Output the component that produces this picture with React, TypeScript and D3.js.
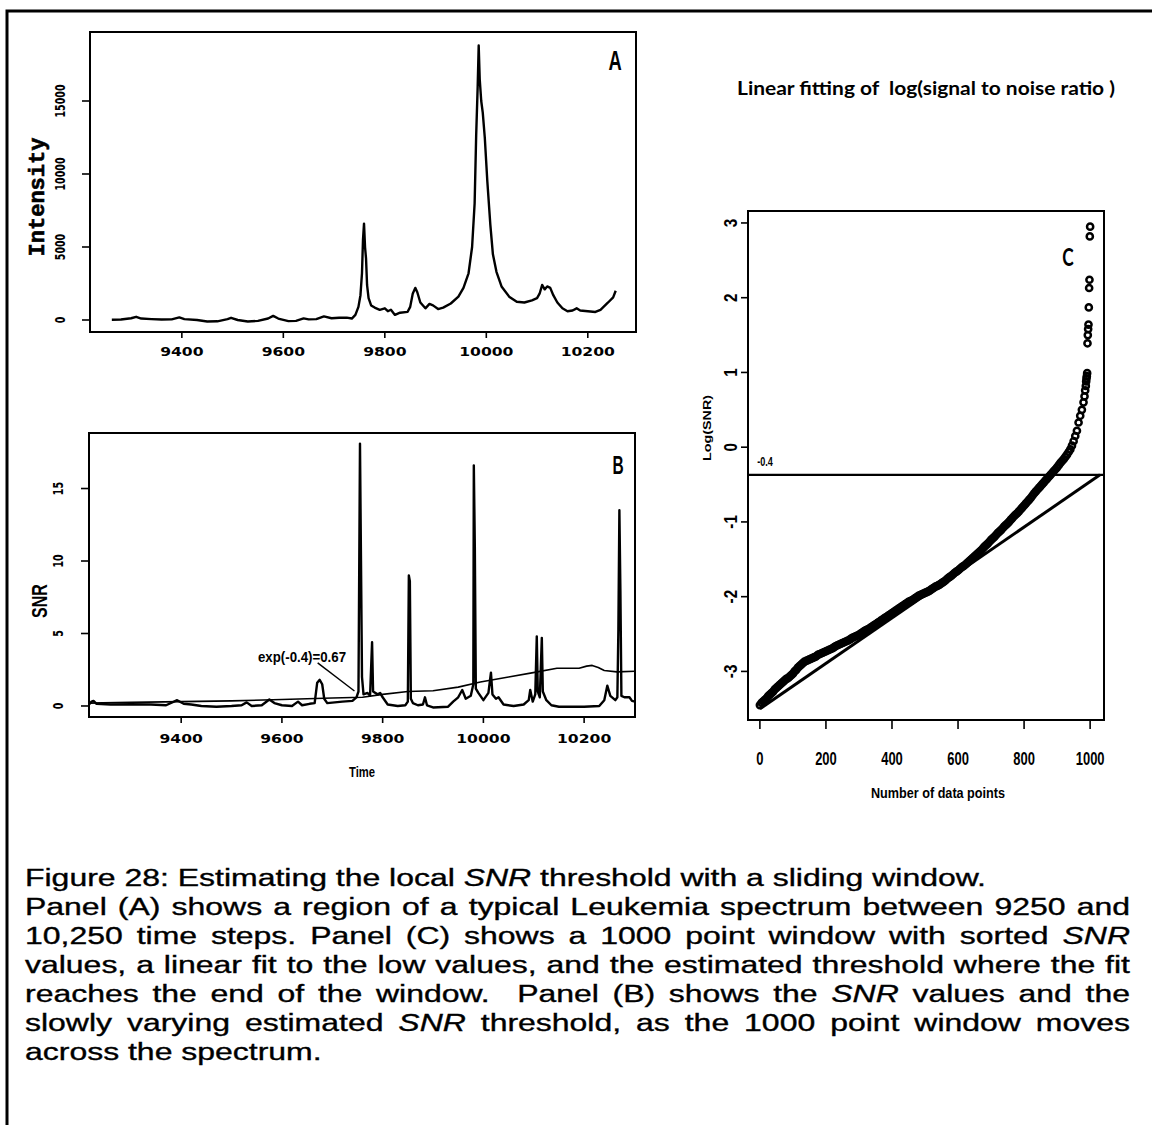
import React, { useEffect, useRef } from "react";
import * as d3 from "d3";

// ---------- Panel A: intensity spectrum ----------
const aTime = [9262, 9280, 9300, 9310, 9320, 9340, 9360, 9380, 9395, 9405, 9430, 9450, 9470, 9490, 9497, 9510, 9530, 9550, 9570, 9580, 9590, 9610, 9625, 9640, 9650, 9665, 9680, 9695, 9710, 9725, 9735, 9742, 9748, 9752, 9755, 9757, 9759, 9761, 9763, 9765, 9768, 9773, 9780, 9790, 9800, 9806, 9812, 9820, 9830, 9845, 9850, 9855, 9860, 9864, 9870, 9880, 9888, 9895, 9905, 9915, 9930, 9945, 9955, 9965, 9972, 9977, 9980, 9983, 9985, 9987, 9990, 9993, 9997, 10002, 10008, 10013, 10020, 10030, 10045, 10060, 10075, 10090, 10100, 10105, 10110, 10115, 10120, 10126, 10132, 10140, 10150, 10160, 10170, 10178, 10185, 10200, 10215, 10225, 10240, 10250, 10255];
const aIntensity = [20, 30, 120, 220, 100, 60, 30, 40, 180, 60, 0, -100, -90, 60, 150, 0, -100, -60, 100, 280, 100, -80, -60, 110, 40, 60, 250, 120, 150, 160, 100, 350, 900, 1700, 3200, 5500, 6600, 5000, 4200, 2400, 1500, 1000, 850, 700, 800, 600, 700, 350, 500, 560, 900, 1800, 2200, 1900, 1200, 800, 1100, 1000, 750, 850, 1130, 1600, 2200, 3200, 5000, 8000, 12600, 16000, 18800, 16500, 15000, 14200, 12500, 9500, 6500, 4500, 3300, 2300, 1600, 1250, 1200, 1350, 1500, 1800, 2400, 2100, 2300, 2200, 1700, 1200, 800, 600, 650, 800, 650, 600, 550, 700, 1200, 1550, 2000];
const aXTicks = [9400, 9600, 9800, 10000, 10200];
const aYTicks = [0, 5000, 10000, 15000];

// ---------- Panel B: SNR and sliding threshold ----------
const bTime = [9217, 9222, 9226, 9232, 9260, 9300, 9340, 9370, 9392, 9405, 9420, 9440, 9470, 9500, 9520, 9530, 9540, 9560, 9575, 9585, 9600, 9620, 9632, 9640, 9655, 9665, 9670, 9675, 9680, 9684, 9690, 9720, 9740, 9748, 9752, 9755, 9757, 9759, 9762, 9770, 9775, 9779, 9781, 9790, 9795, 9800, 9810, 9830, 9845, 9850, 9852, 9854, 9856, 9860, 9870, 9880, 9884, 9888, 9900, 9930, 9940, 9950, 9958, 9965, 9975, 9980, 9981, 9983, 9985, 9990, 10000, 10010, 10015, 10018, 10025, 10030, 10040, 10060, 10080, 10090, 10093, 10098, 10103, 10106, 10108, 10112, 10116, 10118, 10125, 10135, 10150, 10200, 10230, 10240, 10246, 10252, 10262, 10266, 10268, 10270, 10272, 10274, 10280, 10290, 10295, 10301];
const bSnr = [0.1, 0.3, 0.35, 0.15, 0.1, 0.12, 0.1, 0.05, 0.4, 0.15, 0.1, 0.0, -0.05, 0.0, 0.05, 0.25, 0.0, 0.05, 0.45, 0.2, 0.05, 0.0, 0.3, 0.05, 0.15, 0.2, 1.6, 1.8, 1.5, 0.5, 0.2, 0.3, 0.35, 0.6, 1.0, 18.1, 10, 2, 0.8, 0.9, 0.7, 4.4, 1.0, 0.8, 0.9, 0.6, 0.1, 0.0, 0.05, 0.3, 9.0, 8.6, 0.5, 0.2, 0.05, 0.1, 0.6, 0.05, -0.1, -0.05, 0.3, 0.6, 1.1, 0.5, 0.7, 1.5, 16.6, 11, 1.2, 0.9, 0.4, 0.9, 2.3, 0.8, 0.5, 0.6, 0.1, 0.0, 0.1, 0.4, 1.1, 0.3, 0.8, 4.8, 1.0, 0.6, 4.7, 1.0, 0.4, 0.05, -0.05, -0.05, 0.0, 0.4, 1.4, 0.7, 0.4, 0.6, 5.3, 13.5, 8, 0.7, 0.6, 0.6, 0.35, 0.3];
const thrTime = [9217, 9300, 9400, 9500, 9600, 9700, 9760, 9800, 9850, 9900, 9950, 9994, 10050, 10099, 10146, 10190, 10205, 10216, 10228, 10240, 10265, 10301];
const thrSnr = [0.2, 0.25, 0.3, 0.35, 0.45, 0.55, 0.6, 0.8, 1.0, 1.05, 1.3, 1.65, 2.0, 2.3, 2.6, 2.6, 2.75, 2.8, 2.65, 2.45, 2.35, 2.4];
const bXTicks = [9400, 9600, 9800, 10000, 10200];
const bYTicks = [0, 5, 10, 15];
const bNoteText = "exp(-0.4)=0.67";
const bNoteFrom = [9671, 2.97];
const bNoteTo = [9744, 1.03];

// ---------- Panel C: sorted log(SNR) in a 1000 point window ----------
const cIndex = [
  0, 5, 10, 15, 20, 25, 30, 35, 40, 45, 50, 55, 60, 65, 70, 75, 80, 85, 90, 95,
  100, 105, 110, 115, 120, 125, 130, 135, 140, 145, 150, 155, 160, 165, 170, 175, 180, 185, 190, 195,
  200, 205, 210, 215, 220, 225, 230, 235, 240, 245, 250, 255, 260, 265, 270, 275, 280, 285, 290, 295,
  300, 305, 310, 315, 320, 325, 330, 335, 340, 345, 350, 355, 360, 365, 370, 375, 380, 385, 390, 395,
  400, 405, 410, 415, 420, 425, 430, 435, 440, 445, 450, 455, 460, 465, 470, 475, 480, 485, 490, 495,
  500, 505, 510, 515, 520, 525, 530, 535, 540, 545, 550, 555, 560, 565, 570, 575, 580, 585, 590, 595,
  600, 605, 610, 615, 620, 625, 630, 635, 640, 645, 650, 655, 660, 665, 670, 675, 680, 685, 690, 695,
  700, 705, 710, 715, 720, 725, 730, 735, 740, 745, 750, 755, 760, 765, 770, 775, 780, 785, 790, 795,
  800, 805, 810, 815, 820, 825, 830, 835, 840, 845, 850, 855, 860, 865, 870, 875, 880, 885, 890, 895,
  900, 905, 910, 915, 920, 925, 930, 935, 940, 945, 950, 955, 960, 965, 970, 975, 980, 983, 985, 987,
  988, 989, 990, 991, 992, 993, 994, 995, 996, 997, 998, 999, 1000,
];
const cLogSnr = [
  -3.45, -3.42, -3.4, -3.38, -3.36, -3.33, -3.31, -3.29, -3.27, -3.24, -3.22, -3.2, -3.18, -3.16, -3.14, -3.12, -3.1, -3.09, -3.07, -3.05,
  -3.03, -3.0, -2.98, -2.95, -2.93, -2.91, -2.89, -2.87, -2.86, -2.85, -2.84, -2.83, -2.82, -2.81, -2.8, -2.78, -2.77, -2.76, -2.75, -2.74,
  -2.73, -2.72, -2.71, -2.7, -2.69, -2.675, -2.66, -2.65, -2.64, -2.63, -2.62, -2.61, -2.6, -2.59, -2.58, -2.565, -2.55, -2.54, -2.53, -2.52,
  -2.51, -2.495, -2.48, -2.465, -2.45, -2.44, -2.43, -2.415, -2.4, -2.385, -2.37, -2.355, -2.34, -2.325, -2.31, -2.295, -2.28, -2.265, -2.25, -2.235,
  -2.22, -2.205, -2.19, -2.175, -2.16, -2.145, -2.13, -2.115, -2.1, -2.085, -2.07, -2.06, -2.05, -2.035, -2.02, -2.005, -1.99, -1.98, -1.97, -1.96,
  -1.95, -1.94, -1.93, -1.915, -1.9, -1.885, -1.87, -1.86, -1.85, -1.835, -1.82, -1.805, -1.79, -1.77, -1.75, -1.735, -1.72, -1.7, -1.68, -1.665,
  -1.65, -1.63, -1.61, -1.595, -1.58, -1.56, -1.54, -1.52, -1.5, -1.48, -1.46, -1.44, -1.42, -1.4, -1.38, -1.355, -1.33, -1.31, -1.29, -1.265,
  -1.24, -1.22, -1.2, -1.175, -1.15, -1.13, -1.11, -1.085, -1.06, -1.04, -1.02, -0.995, -0.97, -0.945, -0.92, -0.9, -0.88, -0.855, -0.83, -0.805,
  -0.78, -0.755, -0.73, -0.705, -0.68, -0.65, -0.62, -0.595, -0.57, -0.545, -0.52, -0.495, -0.47, -0.445, -0.42, -0.395, -0.37, -0.345, -0.32, -0.295,
  -0.27, -0.24, -0.21, -0.185, -0.16, -0.13, -0.1, -0.065, -0.03, 0.02, 0.08, 0.15, 0.22, 0.33, 0.42, 0.5, 0.6, 0.68, 0.76, 0.82,
  0.88, 0.92, 0.95, 0.99, 1.39, 1.5, 1.58, 1.64, 1.87, 2.13, 2.24, 2.82, 2.95,
];
const fitIndex = [0, 1030];
const fitLog = [-3.5, -0.37];
const thresholdLog = -0.37;
const thresholdLabel = "-0.4";
const cXTicks = [0, 200, 400, 600, 800, 1000];
const cYTicks = [-3, -2, -1, 0, 1, 2, 3];

// ---------- Caption ----------
type Seg = [string, boolean];
const captionLines: { segs: Seg[]; justify: boolean }[] = [
  { segs: [["Figure 28: Estimating the local ", false], ["SNR", true], [" threshold with a sliding window.", false]], justify: false },
  { segs: [["Panel (A) shows a region of a typical Leukemia spectrum between 9250 and", false]], justify: true },
  { segs: [["10,250 time steps. Panel (C) shows a 1000 point window with sorted ", false], ["SNR", true]], justify: true },
  { segs: [["values, a linear fit to the low values, and the estimated threshold where the fit", false]], justify: true },
  { segs: [["reaches the end of the window.  Panel (B) shows the ", false], ["SNR", true], [" values and the", false]], justify: true },
  { segs: [["slowly varying estimated ", false], ["SNR", true], [" threshold, as the 1000 point window moves", false]], justify: true },
  { segs: [["across the spectrum.", false]], justify: false },
];

const W = 1152;
const H = 1125;
const TICK_FONT = "'DejaVu Sans', sans-serif";
const NARROW = "'Liberation Sans', Arial, sans-serif";
const CAP_SX = 1.36;

export default function App() {
  const capRef = useRef<SVGGElement>(null);

  useEffect(() => {
    const g = capRef.current;
    if (!g) return;
    const els = g.querySelectorAll("text[data-justify='1']");
    els.forEach((node) => {
      const el = node as SVGTextElement;
      el.style.wordSpacing = "0px";
      const natural = el.getComputedTextLength();
      const n = ((el.textContent || "").match(/ /g) || []).length;
      const target = Number(el.getAttribute("data-width"));
      if (n > 0) el.style.wordSpacing = `${(target - natural) / n}px`;
    });
  }, []);

  // scales
  const xA = d3.scaleLinear().domain([9219, 10295]).range([90, 636]);
  const yA = d3.scaleLinear().domain([-822, 19726]).range([332, 32]);
  const xB = d3.scaleLinear().domain([9217, 10301]).range([89, 635]);
  const yB = d3.scaleLinear().domain([-0.76, 18.83]).range([717, 433]);
  const xC = d3.scaleLinear().domain([-36, 1042]).range([748, 1104]);
  const yC = d3.scaleLinear().domain([-3.65, 3.16]).range([720, 211]);

  const lineA = d3.line<number>().x((_, i) => xA(aTime[i])).y((d) => yA(d));
  const lineB = d3.line<number>().x((_, i) => xB(bTime[i])).y((d) => yB(d));
  const lineThr = d3.line<number>().x((_, i) => xB(thrTime[i])).y((d) => yB(d));
  const lineFit = d3.line<number>().x((_, i) => xC(fitIndex[i])).y((d) => yC(d));

  const [aL, aR] = xA.range();
  const [aB, aT] = yA.range();
  const [bL, bR] = xB.range();
  const [bB, bT] = yB.range();
  const [cL, cR] = xC.range();
  const [cB, cT] = yC.range();

  return (
    <div style={{ position: "absolute", left: 0, top: 0 }}>
      <svg width={W} height={H} viewBox={`0 0 ${W} ${H}`} style={{ display: "block", background: "#fff" }}>
        <defs>
          <clipPath id="clipA"><rect x={aL} y={aT} width={aR - aL} height={aB - aT} /></clipPath>
          <clipPath id="clipB"><rect x={bL} y={bT} width={bR - bL} height={bB - bT} /></clipPath>
          <clipPath id="clipC"><rect x={cL} y={cT} width={cR - cL} height={cB - cT} /></clipPath>
        </defs>

        {/* outer frame */}
        <path d={`M7,${H + 5} L7,11 L${W + 5},11`} fill="none" stroke="#000" strokeWidth={3} />

        {/* ================= Panel A ================= */}
        <g>
          <rect x={aL} y={aT} width={aR - aL} height={aB - aT} fill="none" stroke="#000" strokeWidth={2} />
          <path d={lineA(aIntensity) || ""} fill="none" stroke="#000" strokeWidth={2.4} strokeLinejoin="round" clipPath="url(#clipA)" />
          {aXTicks.map((t) => (
            <g key={t}>
              <line x1={xA(t)} x2={xA(t)} y1={aB} y2={aB + 6} stroke="#000" strokeWidth={1.6} />
              <text transform={`translate(${xA(t)},${aB + 24}) scale(1.2,1)`} textAnchor="middle" fontFamily={TICK_FONT} fontWeight="bold" fontSize={13}>{t}</text>
            </g>
          ))}
          {aYTicks.map((t) => (
            <g key={t}>
              <line x1={aL - 8} x2={aL} y1={yA(t)} y2={yA(t)} stroke="#000" strokeWidth={1.6} />
              <text transform={`translate(${aL - 30},${yA(t)}) scale(1.5,1) rotate(-90)`} textAnchor="middle" dominantBaseline="central" fontFamily={TICK_FONT} fontWeight="bold" fontSize={9.5}>{t}</text>
            </g>
          ))}
          <text transform={`translate(38,197) rotate(-90)`} textAnchor="middle" dominantBaseline="central" fontFamily="'Liberation Mono', 'DejaVu Sans Mono', monospace" fontWeight="bold" fontSize={22} stroke="#000" strokeWidth={0.6}>Intensity</text>
          <text transform={`translate(615,70) scale(0.68,1)`} textAnchor="middle" fontFamily={NARROW} fontWeight="bold" fontSize={27}>A</text>
        </g>

        {/* ================= Panel B ================= */}
        <g>
          <rect x={bL} y={bT} width={bR - bL} height={bB - bT} fill="none" stroke="#000" strokeWidth={2} />
          <g clipPath="url(#clipB)">
            <path d={lineThr(thrSnr) || ""} fill="none" stroke="#000" strokeWidth={1.6} strokeLinejoin="round" />
            <path d={lineB(bSnr) || ""} fill="none" stroke="#000" strokeWidth={2.4} strokeLinejoin="round" />
          </g>
          {bXTicks.map((t) => (
            <g key={t}>
              <line x1={xB(t)} x2={xB(t)} y1={bB} y2={bB + 6} stroke="#000" strokeWidth={1.6} />
              <text transform={`translate(${xB(t)},${bB + 26}) scale(1.2,1)`} textAnchor="middle" fontFamily={TICK_FONT} fontWeight="bold" fontSize={13}>{t}</text>
            </g>
          ))}
          {bYTicks.map((t) => (
            <g key={t}>
              <line x1={bL - 8} x2={bL} y1={yB(t)} y2={yB(t)} stroke="#000" strokeWidth={1.6} />
              <text transform={`translate(${bL - 31},${yB(t)}) scale(1.5,1) rotate(-90)`} textAnchor="middle" dominantBaseline="central" fontFamily={TICK_FONT} fontWeight="bold" fontSize={9.5}>{t}</text>
            </g>
          ))}
          <text transform={`translate(39,601) scale(1.4,1) rotate(-90)`} textAnchor="middle" dominantBaseline="central" fontFamily={NARROW} fontWeight="bold" fontSize={16}>SNR</text>
          <text transform={`translate(362,777) scale(0.75,1)`} textAnchor="middle" fontFamily={NARROW} fontWeight="bold" fontSize={15}>Time</text>
          <text transform={`translate(618,474) scale(0.62,1)`} textAnchor="middle" fontFamily={NARROW} fontWeight="bold" fontSize={25}>B</text>
          <text x={302} y={662} textAnchor="middle" fontFamily={NARROW} fontWeight="bold" fontSize={14} textLength={88} lengthAdjust="spacingAndGlyphs">{bNoteText}</text>
          <line x1={xB(bNoteFrom[0])} y1={yB(bNoteFrom[1])} x2={xB(bNoteTo[0])} y2={yB(bNoteTo[1])} stroke="#000" strokeWidth={1.4} />
        </g>

        {/* ================= Panel C ================= */}
        <g>
          <text x={926} y={95} textAnchor="middle" fontFamily="Lato, 'Open Sans', sans-serif" fontWeight="bold" fontSize={18} textLength={378} lengthAdjust="spacingAndGlyphs" style={{ whiteSpace: "pre" }}>Linear fitting of  log(signal to noise ratio )</text>
          <rect x={cL} y={cT} width={cR - cL} height={cB - cT} fill="none" stroke="#000" strokeWidth={2} />
          <g clipPath="url(#clipC)">
            <line x1={cL} x2={cR} y1={yC(thresholdLog)} y2={yC(thresholdLog)} stroke="#000" strokeWidth={2.4} />
            <path d={lineFit(fitLog) || ""} fill="none" stroke="#000" strokeWidth={3} />
            {cLogSnr.map((v, i) => (
              <circle key={i} cx={xC(cIndex[i])} cy={yC(v)} r={3.1} fill="none" stroke="#000" strokeWidth={2.5} />
            ))}
          </g>
          <text transform={`translate(765,466) scale(0.7,1)`} textAnchor="middle" fontFamily={NARROW} fontWeight="bold" fontSize={13}>{thresholdLabel}</text>
          {cXTicks.map((t) => (
            <g key={t}>
              <line x1={xC(t)} x2={xC(t)} y1={cB} y2={cB + 9} stroke="#000" strokeWidth={1.6} />
              <text transform={`translate(${xC(t)},${cB + 45}) scale(0.72,1)`} textAnchor="middle" fontFamily={NARROW} fontWeight="bold" fontSize={18}>{t}</text>
            </g>
          ))}
          {cYTicks.map((t) => (
            <g key={t}>
              <line x1={cL - 7} x2={cL} y1={yC(t)} y2={yC(t)} stroke="#000" strokeWidth={1.6} />
              <text transform={`translate(${cL - 18},${yC(t)}) scale(1,0.8) rotate(-90)`} textAnchor="middle" dominantBaseline="central" fontFamily={NARROW} fontWeight="bold" fontSize={19}>{t}</text>
            </g>
          ))}
          <text transform={`translate(707,428) rotate(-90)`} textAnchor="middle" dominantBaseline="central" fontFamily={NARROW} fontWeight="bold" fontSize={10} textLength={66} lengthAdjust="spacingAndGlyphs">Log(SNR)</text>
          <text x={938} y={798} textAnchor="middle" fontFamily={NARROW} fontWeight="bold" fontSize={15} textLength={134} lengthAdjust="spacingAndGlyphs">Number of data points</text>
          <text transform={`translate(1068,266) scale(0.72,1)`} textAnchor="middle" fontFamily="Lato, 'Liberation Sans', sans-serif" fontWeight="bold" fontSize={24}>C</text>
        </g>

        {/* ================= Caption ================= */}
        <g ref={capRef} transform={`scale(${CAP_SX},1)`}>
          {captionLines.map((ln, i) => (
            <text key={i} x={25 / CAP_SX} y={886 + i * 29} fontFamily="'Liberation Sans', Arial, sans-serif" fontSize={23.5} stroke="#000" strokeWidth={0.35} style={{ whiteSpace: "pre" }} data-justify={ln.justify ? "1" : "0"} data-width={1105 / CAP_SX}>
              {ln.segs.map((s, j) => (
                <tspan key={j} fontStyle={s[1] ? "italic" : "normal"}>{s[0]}</tspan>
              ))}
            </text>
          ))}
        </g>
      </svg>
    </div>
  );
}
